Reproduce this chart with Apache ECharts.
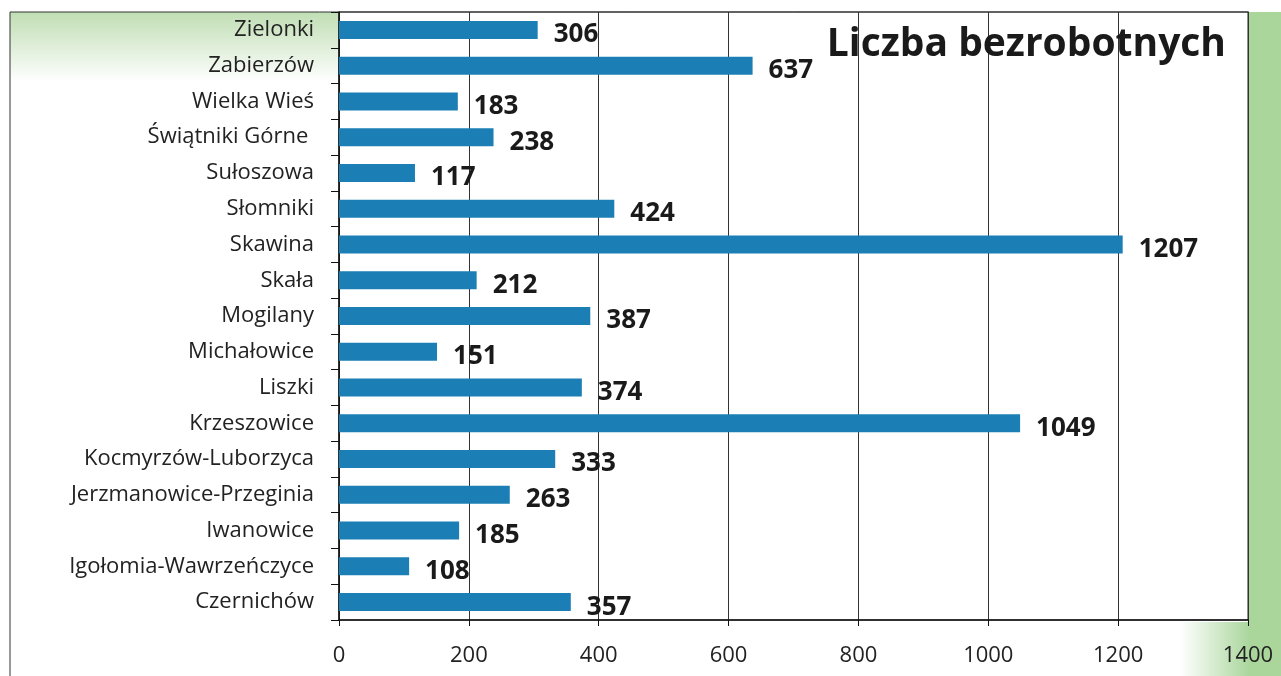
<!DOCTYPE html>
<html>
<head>
<meta charset="utf-8">
<script src="https://cdn.jsdelivr.net/npm/echarts@6/dist/echarts.min.js"></script>
<style>
  html, body { margin: 0; padding: 0; background: #fff; }
  #main { width: 1281px; height: 676px; }
</style>
</head>
<body>
<div id="main"></div>
<script>
// gminy, od góry do dołu
const gminy = [
  "Zielonki", "Zabierzów", "Wielka Wieś", "Świątniki Górne ", "Sułoszowa",
  "Słomniki", "Skawina", "Skała", "Mogilany", "Michałowice", "Liszki",
  "Krzeszowice", "Kocmyrzów-Luborzyca", "Jerzmanowice-Przeginia",
  "Iwanowice", "Igołomia-Wawrzeńczyce", "Czernichów"
];
const bezrobotni = [306, 637, 183, 238, 117, 424, 1207, 212, 387, 151, 374, 1049, 333, 263, 185, 108, 357];
const osX = [0, 200, 400, 600, 800, 1000, 1200, 1400];

const chart = echarts.init(document.getElementById("main"));

const font = "'Open Sans', 'Noto Sans', sans-serif";

chart.setOption({
  backgroundColor: "#fff",
  animation: false,
  title: {
    text: "Liczba bezrobotnych",
    right: 50,
    top: 20,
    textStyle: { fontFamily: font, fontSize: 39, fontWeight: "bold", color: "#1a1a1a" }
  },
  // tło ze skanu: zielone brzegi + ramka
  graphic: [
    {
      type: "rect", z: -10, silent: true,
      shape: { x: 10, y: 12, width: 328, height: 70 },
      style: {
        fill: new echarts.graphic.LinearGradient(0, 0, 0, 1, [
          { offset: 0, color: "rgba(150,200,130,0.6)" },
          { offset: 1, color: "rgba(150,200,130,0)" }
        ])
      }
    },
    {
      type: "rect", z: -10, silent: true,
      shape: { x: 1249, y: 12, width: 40, height: 670 },
      style: { fill: "#aad69c" }
    },
    {
      type: "rect", z: -10, silent: true,
      shape: { x: 1180, y: 622, width: 70, height: 60 },
      style: {
        fill: new echarts.graphic.LinearGradient(0, 0, 1, 0, [
          { offset: 0, color: "rgba(170,214,156,0)" },
          { offset: 1, color: "rgba(170,214,156,1)" }
        ])
      }
    },
    {
      type: "polyline", silent: true,
      shape: { points: [[10, 676], [10, 12], [1249, 12]] },
      style: { stroke: "#333", lineWidth: 1, fill: null }
    }
  ],
  grid: {
    left: 339,
    right: 33,
    top: 12,
    bottom: 56,
    show: true,
    borderColor: "#222",
    borderWidth: 1
  },
  xAxis: {
    type: "value",
    min: 0,
    max: 1400,
    interval: 200,
    axisLine: { show: true, lineStyle: { color: "#111", width: 1.5 } },
    axisTick: { show: true, length: 6, lineStyle: { color: "#111" } },
    axisLabel: {
      margin: 25,
      fontFamily: font,
      fontSize: 22,
      color: "#222",
      customValues: osX,
      formatter: (v) => String(v)
    },
    splitLine: { show: true, lineStyle: { color: "#333", width: 1 } }
  },
  yAxis: {
    type: "category",
    data: gminy,
    inverse: true,
    axisLine: { show: true, lineStyle: { color: "#111", width: 1.5 } },
    axisTick: { show: true, length: 8, lineStyle: { color: "#111" } },
    axisLabel: {
      margin: 25,
      fontFamily: font,
      fontSize: 22,
      color: "#222"
    }
  },
  series: [
    {
      type: "bar",
      data: bezrobotni,
      barWidth: 18,
      itemStyle: { color: "#1b7fb6" },
      label: {
        show: true,
        position: "right",
        distance: 16,
        offset: [0, 5],
        fontFamily: font,
        fontSize: 26,
        fontWeight: "bold",
        color: "#1a1a1a"
      }
    }
  ]
});
</script>
</body>
</html>
